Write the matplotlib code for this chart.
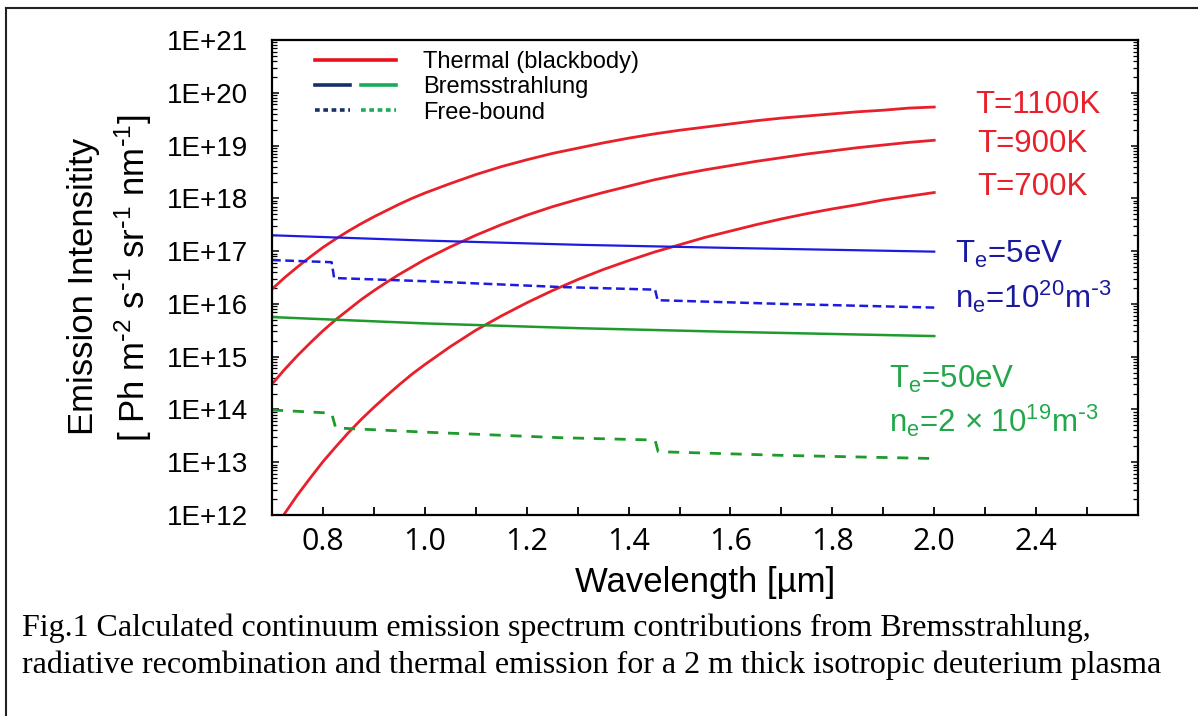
import numpy as np
import matplotlib
matplotlib.use("Agg")
import matplotlib.pyplot as plt
from matplotlib.lines import Line2D
from matplotlib.legend_handler import HandlerTuple

plt.rcParams['font.family'] = ['Liberation Sans', 'DejaVu Sans']
plt.rcParams['mathtext.default'] = 'regular'

# wavelength grid (um) for the thermal curves
wl_thermal = [0.70, 0.725, 0.75, 0.775, 0.80, 0.825, 0.85, 0.875, 0.90,
              0.925, 0.95, 0.975, 1.0, 1.05, 1.1, 1.15, 1.2, 1.25, 1.3,
              1.35, 1.4, 1.45, 1.5, 1.55, 1.6, 1.65, 1.7, 1.75, 1.8, 1.85,
              1.9, 1.95, 2.0]
# log10 of intensity
log_t1100 = [16.28, 16.50, 16.70, 16.89, 17.07, 17.23, 17.38, 17.52, 17.65,
             17.77, 17.89, 18.00, 18.10, 18.28, 18.45, 18.60, 18.73, 18.85,
             18.95, 19.05, 19.14, 19.22, 19.29, 19.35, 19.41, 19.47, 19.52,
             19.56, 19.60, 19.64, 19.67, 19.71, 19.73]
log_t900 = [14.48, 14.76, 15.02, 15.26, 15.49, 15.70, 15.89, 16.08, 16.25,
            16.41, 16.56, 16.70, 16.84, 17.08, 17.30, 17.50, 17.68, 17.84,
            17.98, 18.11, 18.23, 18.35, 18.45, 18.54, 18.62, 18.70, 18.77,
            18.84, 18.90, 18.96, 19.01, 19.06, 19.10]
log_t700 = [11.65, 12.03, 12.38, 12.70, 13.01, 13.29, 13.56, 13.81, 14.04,
            14.26, 14.47, 14.67, 14.85, 15.19, 15.50, 15.77, 16.02, 16.25,
            16.46, 16.65, 16.82, 16.98, 17.12, 17.26, 17.38, 17.50, 17.61,
            17.71, 17.80, 17.88, 17.97, 18.04, 18.11]

# Bremsstrahlung
wl_brems = [0.7, 1.0, 1.3, 1.6, 2.0]
log_brems_5ev = [17.30, 17.20, 17.12, 17.06, 16.99]
log_brems_50ev = [15.75, 15.63, 15.54, 15.47, 15.39]

# free-bound (steps at the recombination edges)
wl_fb_5ev = [0.70, 0.817, 0.822, 1.0, 1.265, 1.452, 1.457, 1.7, 2.0]
log_fb_5ev = [16.83, 16.79, 16.49, 16.43, 16.32, 16.27, 16.07, 16.00, 15.93]
wl_fb_50ev = [0.70, 0.817, 0.825, 1.0, 1.265, 1.452, 1.458, 1.7, 2.0]
log_fb_50ev = [13.99, 13.93, 13.65, 13.57, 13.465, 13.42, 13.20, 13.13, 13.07]

xtick_pos = [0.8, 1.0, 1.2, 1.4, 1.6, 1.8, 2.0, 2.2]
xtick_labels = ['0.8', '1.0', '1.2', '1.4', '1.6', '1.8', '2.0', '2.4']

red = '#e8202a'
blue = '#1c1ce0'
green = '#1f9a2c'
navy_txt = '#1a1aa0'
green_txt = '#22a84a'

fig = plt.figure(figsize=(11.98, 7.16), dpi=100)
W, H = 1198, 716
ax = fig.add_axes([272 / W, 1 - 515 / H, 866 / W, 475 / H])

ax.plot(wl_thermal, 10 ** np.array(log_t1100), color=red, lw=2.0)
ax.plot(wl_thermal, 10 ** np.array(log_t900), color=red, lw=2.0)
ax.plot(wl_thermal, 10 ** np.array(log_t700), color=red, lw=2.0)
ax.plot(wl_brems, 10 ** np.array(log_brems_5ev), color=blue, lw=1.6)
ax.plot(wl_brems, 10 ** np.array(log_brems_50ev), color=green, lw=1.8)
ax.plot(wl_fb_5ev, 10 ** np.array(log_fb_5ev), color=blue, lw=1.8,
        dashes=(3.5, 1.8))
ax.plot(wl_fb_50ev, 10 ** np.array(log_fb_50ev), color=green, lw=2.0,
        dashes=(4, 3.5))

ax.set_yscale('log')
ax.set_xlim(0.7, 2.4)
ax.set_ylim(1e12, 1e21)
ax.set_yticks([10.0 ** k for k in range(12, 22)])
ax.set_yticklabels(['1E+%d' % k for k in range(12, 22)], fontsize=20)
ax.set_xticks(xtick_pos)
ax.set_xticks(np.arange(0.9, 2.4, 0.2), minor=True)
ax.set_xticklabels(xtick_labels, fontsize=22, family='Open Sans')
ax.tick_params(axis='x', which='both', direction='in', length=6, width=1.3,
               pad=9, top=False)
ax.tick_params(axis='y', which='major', direction='in', length=5, width=1.1,
               right=True, pad=17)
ax.tick_params(axis='y', which='minor', direction='in', length=3.5,
               width=0.9, right=True)
for s in ax.spines.values():
    s.set_linewidth(1.6)

ax.set_xlabel('Wavelength [µm]', fontsize=25, labelpad=6)

fig.text(84 / W, 1 - 286 / H, 'Emission Intensitity', rotation=90,
         fontsize=25, ha='center', va='center')
fig.text(133 / W, 1 - 278 / H,
         r'[ Ph m$^{\text{-}2}$ s$^{\text{-}1}$ sr$^{\text{-}1}$ '
         r'nm$^{\text{-}1}$]', rotation=90,
         fontsize=25, ha='center', va='center')

# curve labels
ax.text(2.08, 10 ** 19.62, 'T=1100K', color=red, fontsize=22.5, va='baseline')
ax.text(2.085, 10 ** 18.88, 'T=900K', color=red, fontsize=22.5, va='baseline')
ax.text(2.085, 10 ** 18.06, 'T=700K', color=red, fontsize=22.5, va='baseline')
ax.text(2.04, 10 ** 16.77, 'T$_e$=5eV', color=navy_txt, fontsize=22.5,
        va='baseline')
ax.text(2.04, 10 ** 15.92, r'n$_e$=10$^{20}$m$^{\text{-}3}$', color=navy_txt,
        fontsize=22.5, va='baseline')
ax.text(1.912, 10 ** 14.41, 'T$_e$=50eV', color=green_txt, fontsize=22.5,
        va='baseline')
ax.text(1.912, 10 ** 13.57, r'n$_e$=2 × 10$^{19}$m$^{\text{-}3}$',
        color=green_txt, fontsize=22.5, va='baseline')

# legend
h_th = Line2D([], [], color='#e8101c', lw=2.6)
h_br = (Line2D([], [], color='#17306a', lw=2.6),
        Line2D([], [], color='#1baa5a', lw=2.6))
h_fb = (Line2D([], [], color='#17306a', lw=2.6, dashes=(1.3, 1.0)),
        Line2D([], [], color='#1baa5a', lw=2.6, dashes=(1.3, 1.0)))
ax.legend([h_th, h_br, h_fb], ['Thermal (blackbody)', 'Bremsstrahlung',
                               'Free-bound'],
          handler_map={tuple: HandlerTuple(ndivide=None, pad=0.5)},
          loc='upper left', bbox_to_anchor=(0.05, 0.977), frameon=False,
          fontsize=17, handlelength=3.4, handletextpad=1.15, labelspacing=0.14,
          borderpad=0, borderaxespad=0)

# caption
fig.text(22 / W, 1 - 628 / H,
         'Fig.1 Calculated continuum emission spectrum contributions from '
         'Bremsstrahlung,', family='Liberation Serif', fontsize=23,
         va='center')
fig.text(22 / W, 1 - 665 / H,
         'radiative recombination and thermal emission for a 2 m thick '
         'isotropic deuterium plasma', family='Liberation Serif',
         fontsize=23, va='center')

# outer frame
fig.add_artist(Line2D([6 / W, 6 / W], [0, 1 - 8 / H], color='#222222',
                      lw=1.5, transform=fig.transFigure))
fig.add_artist(Line2D([6 / W, 1], [1 - 8 / H, 1 - 8 / H], color='#222222',
                      lw=1.5, transform=fig.transFigure))

fig.savefig('out.png', dpi=100)
